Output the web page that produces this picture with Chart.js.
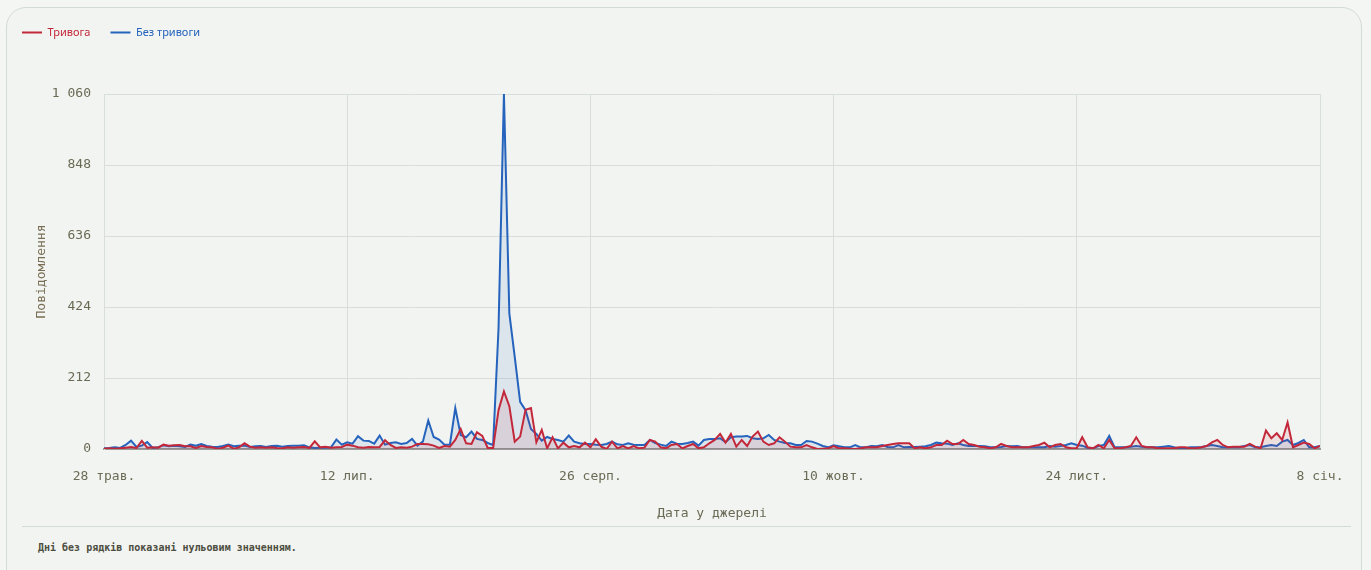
<!DOCTYPE html>
<html lang="uk">
  <head>
    <meta charset="utf-8" />
    <title>Повідомлення</title>
    <script src="https://cdn.jsdelivr.net/npm/chart.js"></script>
    <style>
      html,
      body {
        margin: 0;
        padding: 0;
        background: #f4f6f4;
        width: 1371px;
        height: 570px;
        overflow: hidden;
      }
      .card {
        position: absolute;
        left: 6px;
        top: 7px;
        width: 1354px;
        height: 600px;
        border: 1px solid #d3dbd6;
        border-radius: 20px;
        background: #f1f4f1;
      }
      .chart-box {
        position: absolute;
        left: 0;
        top: 0;
        width: 1371px;
        height: 525px;
      }
      .sep {
        position: absolute;
        left: 22px;
        top: 526px;
        width: 1329px;
        border-top: 1px solid #d3dbd6;
      }
      .note {
        position: absolute;
        left: 38px;
        top: 542px;
        font: 600 10px 'DejaVu Sans Mono', monospace;
        color: #4d4d40;
      }
    </style>
  </head>
  <body>
    <div class="card"></div>
    <div class="chart-box">
      <canvas id="myChart"></canvas>
    </div>
    <div class="sep"></div>
    <div class="note">Дні без рядків показані нульовим значенням.</div>
    <script>
      // one value per day, 28 трав. .. 8 січ.
      const alarm = [
        1, 2, 1, 2, 4, 6, 3, 24, 4, 5,
        4, 13, 10, 11, 12, 8, 8, 3, 9, 6,
        5, 1, 4, 10, 1, 5, 17, 7, 4, 5,
        4, 5, 3, 2, 5, 4, 5, 6, 3, 23,
        5, 7, 4, 5, 6, 13, 10, 5, 4, 6,
        5, 6, 26, 12, 3, 5, 4, 7, 15, 15,
        14, 10, 3, 9, 7, 27, 60, 17, 15, 50,
        39, 3, 3, 116, 172, 128, 22, 37, 117, 122,
        20, 57, 2, 35, 2, 19, 5, 9, 5, 19,
        5, 29, 7, 0, 22, 2, 9, 2, 9, 2,
        4, 27, 22, 5, 2, 12, 15, 2, 9, 15,
        2, 5, 17, 27, 45, 19, 45, 7, 27, 9,
        37, 52, 22, 12, 17, 35, 22, 7, 5, 5,
        12, 5, 0, 1, 2, 9, 2, 2, 1, 0,
        2, 5, 5, 5, 9, 12, 15, 17, 17, 17,
        2, 5, 2, 5, 12, 12, 25, 15, 15, 27,
        15, 12, 7, 5, 2, 5, 15, 9, 5, 5,
        5, 5, 9, 12, 19, 5, 12, 15, 5, 2,
        3, 35, 5, 2, 12, 2, 27, 2, 2, 5,
        9, 35, 9, 5, 5, 2, 2, 2, 2, 5,
        5, 2, 2, 5, 9, 20, 27, 12, 5, 7,
        7, 7, 15, 7, 2, 55, 32, 47, 27, 79,
        5, 12, 19, 15, 2, 9,
      ];
      const noAlarm = [
        2, 3, 5, 3, 12, 25, 6, 10, 21, 3,
        5, 11, 8, 10, 8, 6, 13, 10, 15, 9,
        7, 6, 9, 13, 8, 10, 10, 6, 8, 9,
        6, 9, 10, 7, 9, 10, 10, 11, 5, 3,
        4, 4, 5, 28, 13, 20, 16, 38, 25, 24,
        16, 40, 13, 18, 20, 15, 18, 30, 10, 22,
        85, 36, 28, 13, 13, 122, 42, 35, 52, 30,
        27, 18, 12, 360, 1060, 405, 275, 141, 116, 60,
        45, 25, 36, 30, 27, 22, 40, 22, 17, 15,
        15, 13, 12, 15, 22, 14, 12, 17, 13, 12,
        12, 27, 18, 13, 9, 22, 16, 15, 18, 22,
        10, 27, 30, 30, 32, 20, 35, 37, 37, 39,
        32, 30, 32, 42, 27, 22, 18, 17, 12, 12,
        24, 22, 16, 9, 5, 11, 8, 5, 5, 12,
        5, 5, 9, 8, 12, 6, 5, 12, 5, 6,
        6, 7, 8, 12, 19, 17, 16, 12, 17, 12,
        9, 9, 9, 8, 5, 5, 6, 9, 8, 9,
        5, 5, 5, 5, 5, 9, 7, 9, 12, 17,
        12, 10, 4, 2, 9, 12, 39, 5, 5, 5,
        7, 9, 7, 5, 5, 5, 7, 9, 5, 2,
        2, 5, 5, 5, 9, 12, 9, 5, 5, 5,
        5, 9, 12, 5, 5, 9, 12, 9, 22, 27,
        12, 18, 27, 5, 5, 9,
      ];
      // labels every 45 days
      const xTicks = ['28 трав.', '12 лип.', '26 серп.', '10 жовт.', '24 лист.', '8 січ.'];
      const tickStep = 45;
      const yMax = 1060;
      const yStep = 212;

      const red = '#c3283a';
      const blue = '#2563bd';
      const mono = "'DejaVu Sans Mono', monospace";

      function toPoints(arr) {
        return arr.map((v, i) => ({ x: i, y: v }));
      }

      // extra room under the legend
      const legendGap = {
        id: 'legendGap',
        beforeInit(chart) {
          const fit = chart.legend.fit;
          chart.legend.fit = function () {
            fit.bind(chart.legend)();
            this.height += 46;
          };
        },
      };

      const config = {
        type: 'line',
        data: {
          datasets: [
            {
              label: 'Тривога',
              data: toPoints(alarm),
              borderColor: red,
              backgroundColor: 'rgba(195, 40, 58, 0.10)',
              borderWidth: 2,
              pointRadius: 0,
              fill: 'origin',
              tension: 0,
            },
            {
              label: 'Без тривоги',
              data: toPoints(noAlarm),
              borderColor: blue,
              backgroundColor: 'rgba(37, 99, 189, 0.10)',
              borderWidth: 2,
              pointRadius: 0,
              fill: 'origin',
              tension: 0,
            },
          ],
        },
        plugins: [legendGap],
        options: {
          responsive: true,
          maintainAspectRatio: false,
          animation: false,
          layout: {
            padding: { left: 2, right: 51, top: 7, bottom: 0 },
          },
          plugins: {
            tooltip: { enabled: false },
            legend: {
              position: 'top',
              align: 'start',
              labels: {
                boxWidth: 20,
                boxHeight: 2,
                padding: 20,
                font: { family: "'Noto Sans', sans-serif", size: 11 },
                generateLabels: (chart) =>
                  chart.data.datasets.map((ds, i) => ({
                    text: ds.label,
                    fillStyle: ds.borderColor,
                    strokeStyle: ds.borderColor,
                    lineWidth: 0,
                    fontColor: ds.borderColor,
                    hidden: false,
                    datasetIndex: i,
                  })),
              },
            },
          },
          scales: {
            x: {
              type: 'linear',
              min: 0,
              max: alarm.length - 1,
              afterBuildTicks: (scale) => {
                scale.ticks = xTicks.map((t, k) => ({ value: k * tickStep }));
              },
              afterFit: (scale) => {
                scale.height = 76;
              },
              ticks: {
                autoSkip: false,
                maxRotation: 0,
                padding: 20,
                color: '#6b6a55',
                font: { family: mono, size: 13 },
                callback: (v) => xTicks[Math.round(v / tickStep)],
              },
              grid: { color: '#d7dedb', drawTicks: false },
              border: { color: '#9a9a96', width: 2 },
              title: {
                display: true,
                text: 'Дата у джерелі',
                color: '#6b6a55',
                font: { family: mono, size: 13 },
                padding: { top: 4, bottom: 4 },
              },
            },
            y: {
              min: 0,
              max: yMax,
              afterFit: (scale) => {
                scale.width = 102;
              },
              ticks: {
                stepSize: yStep,
                padding: 13,
                color: '#6b6a55',
                font: { family: mono, size: 13 },
                callback: (v) => String(v).replace(/\B(?=(\d{3})+(?!\d))/g, ' '),
              },
              grid: { color: '#d7dedb', drawTicks: false },
              border: { color: '#d7dedb' },
              title: {
                display: true,
                text: 'Повідомлення',
                color: '#7a6f55',
                font: { family: mono, size: 13 },
                padding: { top: 32, bottom: 4 },
              },
            },
          },
        },
      };

      var myChart = new Chart(document.getElementById('myChart'), config);
    </script>
  </body>
</html>
